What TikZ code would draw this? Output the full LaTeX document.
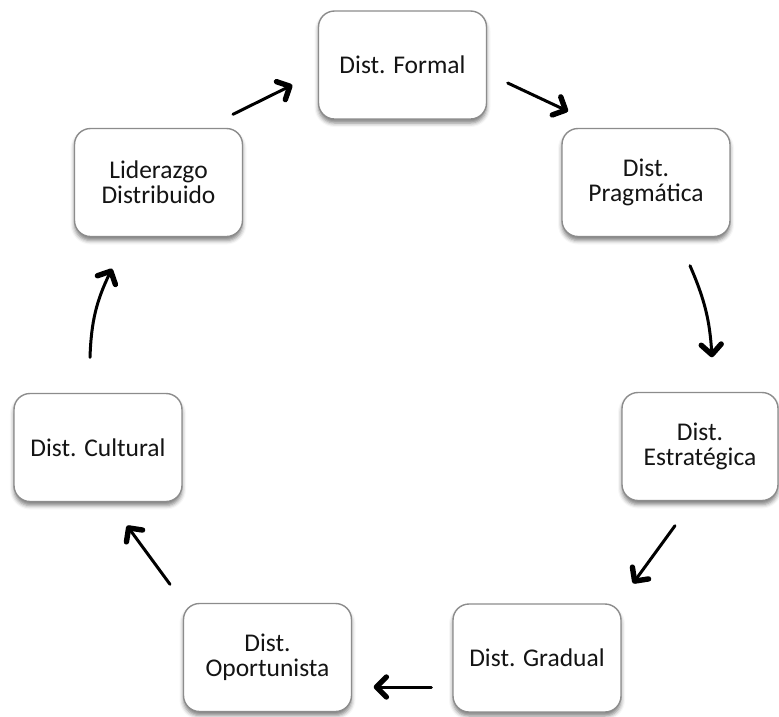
\documentclass[tikz,border=0pt]{standalone}
\usepackage{fontspec}
\setmainfont{Carlito}
\usetikzlibrary{arrows.meta,shadows.blur}
\begin{document}
\begin{tikzpicture}[x=1pt,y=-1pt,
  stage/.style={draw=black!45, line width=1.4pt, rounded corners=16pt, fill=white,
    minimum width=168pt, minimum height=108pt, align=center, inner sep=0pt,
    font=\fontsize{25.5}{25}\selectfont, text=black!92,
    blur shadow={shadow xshift=0pt, shadow yshift=-4pt, shadow blur radius=4pt, shadow opacity=50}},
  flow/.style={line width=3pt, line cap=round,
    -{Straight Barb[length=10pt,width=20pt,line width=5.4pt,round]}}
]
\useasboundingbox (0,0) rectangle (779,716);

% the seven stages of the cycle
\node[stage] (formal) at (402.5,65)  {Dist. Formal};
\node[stage] (prag)   at (646,182.5) {Dist.\\Pragmática};
\node[stage, minimum width=156pt] (estr) at (700,446.5) {Dist.\\Estratégica};
\node[stage] (grad)   at (537,658)   {Dist. Gradual};
\node[stage] (oport)  at (267.5,657.5) {Dist.\\Oportunista};
\node[stage] (cult)   at (98,447.5)  {Dist. Cultural};
\node[stage] (lider)  at (158.5,182.5) {Liderazgo\\Distribuido};

% end points of the hand-drawn arrows between the stages
\coordinate (lf1) at ([shift={(74.5,-13.5)}]lider.north);
\coordinate (lf2) at ([shift={(-25.5,20)}]formal.west);
\coordinate (fp1) at ([shift={(20.5,18)}]formal.east);
\coordinate (fp2) at ([shift={(-78,-16.5)}]prag.north);
\coordinate (pe1) at ([shift={(44,28.5)}]prag.south);
\coordinate (pe2) at ([shift={(12,-34.5)}]estr.north);
\coordinate (eg1) at ([shift={(-25,24.5)}]estr.south);
\coordinate (eg2) at ([shift={(96,-20)}]grad.north);
\coordinate (go1) at ([shift={(-21,29)}]grad.west);
\coordinate (go2) at ([shift={(21.5,29.5)}]oport.east);
\coordinate (oc1) at ([shift={(-97.5,-18.5)}]oport.north);
\coordinate (oc2) at ([shift={(29,23.5)}]cult.south);
\coordinate (cl1) at ([shift={(-8,-35.5)}]cult.north);
\coordinate (cl2) at ([shift={(-46.5,31.5)}]lider.south);

\draw[flow] (lf1) -- (lf2);
\draw[flow] (fp1) -- (fp2);
\draw[flow] (pe1) to[bend left=10] (pe2);
\draw[flow] (eg1) -- (eg2);
\draw[flow] (go1) -- (go2);
\draw[flow] (oc1) -- (oc2);
\draw[flow] (cl1) to[bend left=12] (cl2);
\end{tikzpicture}
\end{document}
